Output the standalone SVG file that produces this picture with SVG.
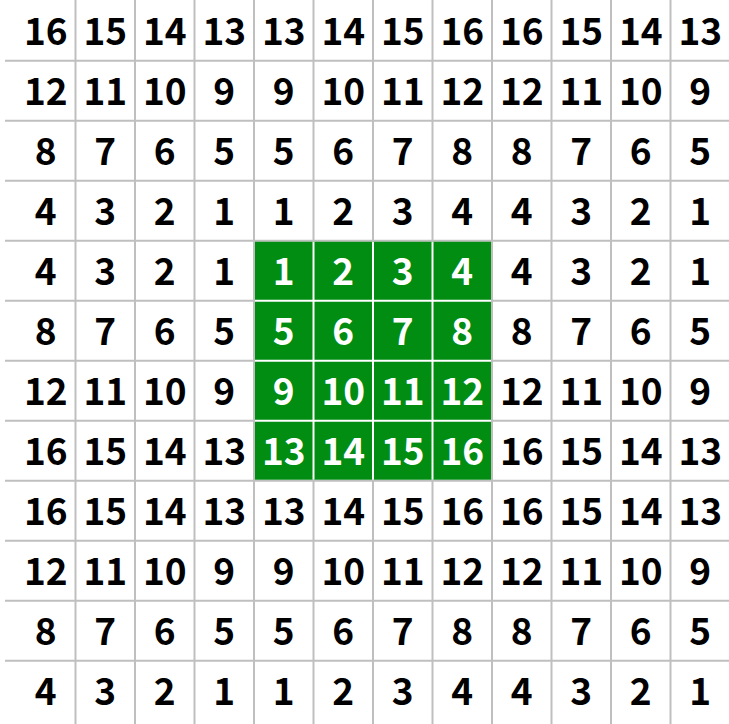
<svg xmlns="http://www.w3.org/2000/svg" width="729" height="724" viewBox="0 0 729 724">
<style>
.g{stroke:#bfbfbf;stroke-width:2}
.w{stroke:#fff;stroke-width:2}
text{font-family:"Noto Sans CJK SC","Noto Sans",sans-serif;font-weight:bold;font-size:37px;text-anchor:middle;fill:#000}
.h text{fill:#fff}
</style>
<rect width="729" height="724" fill="#fff"/>
<g id="grid">
<line class="g" x1="75.5" y1="0" x2="75.5" y2="724"/>
<line class="g" x1="135" y1="0" x2="135" y2="724"/>
<line class="g" x1="194.5" y1="0" x2="194.5" y2="724"/>
<line class="g" x1="254" y1="0" x2="254" y2="724"/>
<line class="g" x1="313.5" y1="0" x2="313.5" y2="724"/>
<line class="g" x1="373" y1="0" x2="373" y2="724"/>
<line class="g" x1="432.5" y1="0" x2="432.5" y2="724"/>
<line class="g" x1="492" y1="0" x2="492" y2="724"/>
<line class="g" x1="551.5" y1="0" x2="551.5" y2="724"/>
<line class="g" x1="611" y1="0" x2="611" y2="724"/>
<line class="g" x1="670.5" y1="0" x2="670.5" y2="724"/>
<line class="g" x1="5" y1="60.7" x2="729" y2="60.7"/>
<line class="g" x1="5" y1="120.7" x2="729" y2="120.7"/>
<line class="g" x1="5" y1="180.7" x2="729" y2="180.7"/>
<line class="g" x1="5" y1="240.7" x2="729" y2="240.7"/>
<line class="g" x1="5" y1="300.7" x2="729" y2="300.7"/>
<line class="g" x1="5" y1="360.7" x2="729" y2="360.7"/>
<line class="g" x1="5" y1="420.7" x2="729" y2="420.7"/>
<line class="g" x1="5" y1="480.7" x2="729" y2="480.7"/>
<line class="g" x1="5" y1="540.7" x2="729" y2="540.7"/>
<line class="g" x1="5" y1="600.7" x2="729" y2="600.7"/>
<line class="g" x1="5" y1="660.7" x2="729" y2="660.7"/>
</g>
<g id="highlight">
<rect x="255" y="241.7" width="236" height="238" fill="#018c12"/>
<line class="w" x1="313.5" y1="241.7" x2="313.5" y2="479.7"/>
<line class="w" x1="373" y1="241.7" x2="373" y2="479.7"/>
<line class="w" x1="432.5" y1="241.7" x2="432.5" y2="479.7"/>
<line class="w" x1="255" y1="300.7" x2="491" y2="300.7"/>
<line class="w" x1="255" y1="360.7" x2="491" y2="360.7"/>
<line class="w" x1="255" y1="420.7" x2="491" y2="420.7"/>
</g>
<g id="row0"><text x="45.75" y="44.7">16</text><text x="105.25" y="44.7">15</text><text x="164.75" y="44.7">14</text><text x="224.25" y="44.7">13</text><text x="283.75" y="44.7">13</text><text x="343.25" y="44.7">14</text><text x="402.75" y="44.7">15</text><text x="462.25" y="44.7">16</text><text x="521.75" y="44.7">16</text><text x="581.25" y="44.7">15</text><text x="640.75" y="44.7">14</text><text x="700.25" y="44.7">13</text></g>
<g id="row1"><text x="45.75" y="104.7">12</text><text x="105.25" y="104.7">11</text><text x="164.75" y="104.7">10</text><text x="224.25" y="104.7">9</text><text x="283.75" y="104.7">9</text><text x="343.25" y="104.7">10</text><text x="402.75" y="104.7">11</text><text x="462.25" y="104.7">12</text><text x="521.75" y="104.7">12</text><text x="581.25" y="104.7">11</text><text x="640.75" y="104.7">10</text><text x="700.25" y="104.7">9</text></g>
<g id="row2"><text x="45.75" y="164.7">8</text><text x="105.25" y="164.7">7</text><text x="164.75" y="164.7">6</text><text x="224.25" y="164.7">5</text><text x="283.75" y="164.7">5</text><text x="343.25" y="164.7">6</text><text x="402.75" y="164.7">7</text><text x="462.25" y="164.7">8</text><text x="521.75" y="164.7">8</text><text x="581.25" y="164.7">7</text><text x="640.75" y="164.7">6</text><text x="700.25" y="164.7">5</text></g>
<g id="row3"><text x="45.75" y="224.7">4</text><text x="105.25" y="224.7">3</text><text x="164.75" y="224.7">2</text><text x="224.25" y="224.7">1</text><text x="283.75" y="224.7">1</text><text x="343.25" y="224.7">2</text><text x="402.75" y="224.7">3</text><text x="462.25" y="224.7">4</text><text x="521.75" y="224.7">4</text><text x="581.25" y="224.7">3</text><text x="640.75" y="224.7">2</text><text x="700.25" y="224.7">1</text></g>
<g id="row4"><text x="45.75" y="284.7">4</text><text x="105.25" y="284.7">3</text><text x="164.75" y="284.7">2</text><text x="224.25" y="284.7">1</text><g class="h"><text x="283.75" y="284.7">1</text><text x="343.25" y="284.7">2</text><text x="402.75" y="284.7">3</text><text x="462.25" y="284.7">4</text></g><text x="521.75" y="284.7">4</text><text x="581.25" y="284.7">3</text><text x="640.75" y="284.7">2</text><text x="700.25" y="284.7">1</text></g>
<g id="row5"><text x="45.75" y="344.7">8</text><text x="105.25" y="344.7">7</text><text x="164.75" y="344.7">6</text><text x="224.25" y="344.7">5</text><g class="h"><text x="283.75" y="344.7">5</text><text x="343.25" y="344.7">6</text><text x="402.75" y="344.7">7</text><text x="462.25" y="344.7">8</text></g><text x="521.75" y="344.7">8</text><text x="581.25" y="344.7">7</text><text x="640.75" y="344.7">6</text><text x="700.25" y="344.7">5</text></g>
<g id="row6"><text x="45.75" y="404.7">12</text><text x="105.25" y="404.7">11</text><text x="164.75" y="404.7">10</text><text x="224.25" y="404.7">9</text><g class="h"><text x="283.75" y="404.7">9</text><text x="343.25" y="404.7">10</text><text x="402.75" y="404.7">11</text><text x="462.25" y="404.7">12</text></g><text x="521.75" y="404.7">12</text><text x="581.25" y="404.7">11</text><text x="640.75" y="404.7">10</text><text x="700.25" y="404.7">9</text></g>
<g id="row7"><text x="45.75" y="464.7">16</text><text x="105.25" y="464.7">15</text><text x="164.75" y="464.7">14</text><text x="224.25" y="464.7">13</text><g class="h"><text x="283.75" y="464.7">13</text><text x="343.25" y="464.7">14</text><text x="402.75" y="464.7">15</text><text x="462.25" y="464.7">16</text></g><text x="521.75" y="464.7">16</text><text x="581.25" y="464.7">15</text><text x="640.75" y="464.7">14</text><text x="700.25" y="464.7">13</text></g>
<g id="row8"><text x="45.75" y="524.7">16</text><text x="105.25" y="524.7">15</text><text x="164.75" y="524.7">14</text><text x="224.25" y="524.7">13</text><text x="283.75" y="524.7">13</text><text x="343.25" y="524.7">14</text><text x="402.75" y="524.7">15</text><text x="462.25" y="524.7">16</text><text x="521.75" y="524.7">16</text><text x="581.25" y="524.7">15</text><text x="640.75" y="524.7">14</text><text x="700.25" y="524.7">13</text></g>
<g id="row9"><text x="45.75" y="584.7">12</text><text x="105.25" y="584.7">11</text><text x="164.75" y="584.7">10</text><text x="224.25" y="584.7">9</text><text x="283.75" y="584.7">9</text><text x="343.25" y="584.7">10</text><text x="402.75" y="584.7">11</text><text x="462.25" y="584.7">12</text><text x="521.75" y="584.7">12</text><text x="581.25" y="584.7">11</text><text x="640.75" y="584.7">10</text><text x="700.25" y="584.7">9</text></g>
<g id="row10"><text x="45.75" y="644.7">8</text><text x="105.25" y="644.7">7</text><text x="164.75" y="644.7">6</text><text x="224.25" y="644.7">5</text><text x="283.75" y="644.7">5</text><text x="343.25" y="644.7">6</text><text x="402.75" y="644.7">7</text><text x="462.25" y="644.7">8</text><text x="521.75" y="644.7">8</text><text x="581.25" y="644.7">7</text><text x="640.75" y="644.7">6</text><text x="700.25" y="644.7">5</text></g>
<g id="row11"><text x="45.75" y="704.7">4</text><text x="105.25" y="704.7">3</text><text x="164.75" y="704.7">2</text><text x="224.25" y="704.7">1</text><text x="283.75" y="704.7">1</text><text x="343.25" y="704.7">2</text><text x="402.75" y="704.7">3</text><text x="462.25" y="704.7">4</text><text x="521.75" y="704.7">4</text><text x="581.25" y="704.7">3</text><text x="640.75" y="704.7">2</text><text x="700.25" y="704.7">1</text></g>
</svg>
